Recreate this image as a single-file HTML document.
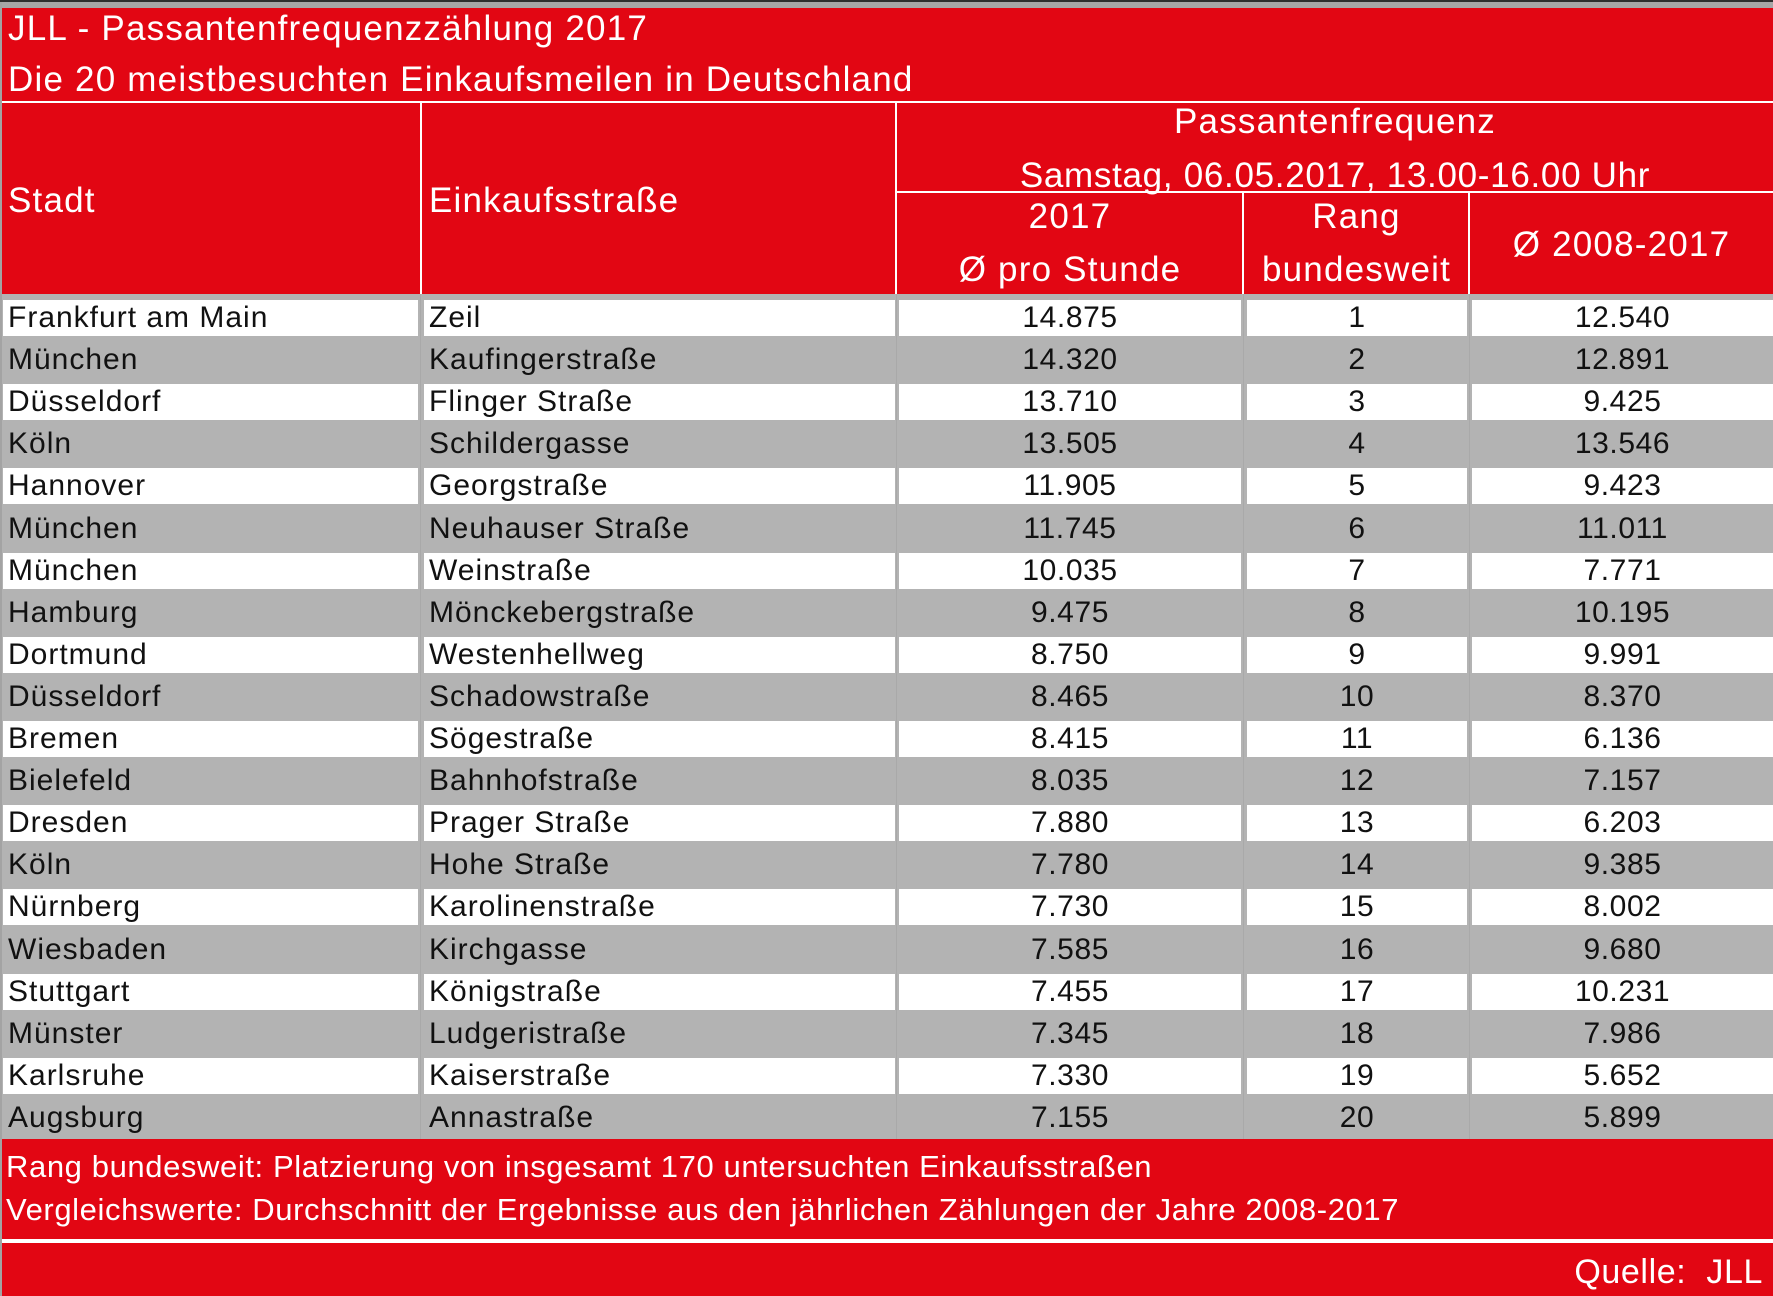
<!DOCTYPE html>
<html><head><meta charset="utf-8">
<style>
*{margin:0;padding:0;box-sizing:border-box}
html,body{width:1773px;height:1296px;overflow:hidden;background:#e20613}
body{position:relative;font-family:"Liberation Sans",Arial,sans-serif}
.a{position:absolute}
.h{position:absolute;color:#fff;font-size:35px;letter-spacing:1.2px;line-height:40px;height:40px;white-space:nowrap}
.f{position:absolute;color:#fff;font-size:31px;letter-spacing:0.6px;line-height:40px;height:40px;white-space:pre}
.r{position:absolute;left:0;width:1773px;height:42.1px}
.c{position:absolute;top:6px;height:36.1px;line-height:36px;font-size:30px;letter-spacing:1px;color:#111;white-space:nowrap}
.w .c{background:#fff}
.c1{left:3px;width:415px;padding-left:5px}
.c2{left:424px;width:471px;padding-left:5px}
.c3{left:899px;width:342px;text-align:center;letter-spacing:0.6px}
.c4{left:1247px;width:220px;text-align:center;letter-spacing:0.6px}
.c5{left:1472px;width:301px;text-align:center;letter-spacing:0.6px}
.vl{position:absolute;top:294px;height:845px;width:1px;background:#a9a9a9}
.wl{position:absolute;background:#fff}
</style></head><body>
<!-- frame -->
<div class="a" style="left:0;top:0;width:1773px;height:2px;background:#2e2e2e"></div>
<div class="a" style="left:0;top:2px;width:1773px;height:6px;background:#a6a6a6"></div>
<div class="a" style="left:0;top:2px;width:2px;height:1294px;background:#a3a3a3"></div>

<!-- title -->
<div class="h" style="left:8px;top:9px">JLL - Passantenfrequenzzählung 2017</div>
<div class="h" style="left:8px;top:60px">Die 20 meistbesuchten Einkaufsmeilen in Deutschland</div>

<!-- header -->
<div class="h" style="left:8px;top:181px">Stadt</div>
<div class="h" style="left:429px;top:181px">Einkaufsstraße</div>
<div class="h" style="left:897px;width:876px;text-align:center;top:102px">Passantenfrequenz</div>
<div class="h" style="left:897px;width:876px;text-align:center;top:156px;letter-spacing:0.7px">Samstag, 06.05.2017, 13.00-16.00 Uhr</div>
<div class="h" style="left:897px;width:346px;text-align:center;top:197px">2017</div>
<div class="h" style="left:897px;width:346px;text-align:center;top:250px">Ø pro Stunde</div>
<div class="h" style="left:1244px;width:225px;text-align:center;top:197px">Rang</div>
<div class="h" style="left:1244px;width:225px;text-align:center;top:250px">bundesweit</div>
<div class="h" style="left:1470px;width:303px;text-align:center;top:225px">Ø 2008-2017</div>

<!-- header white lines -->
<div class="wl" style="left:2px;top:101px;width:1771px;height:2px"></div>
<div class="wl" style="left:420px;top:103px;width:2px;height:191px"></div>
<div class="wl" style="left:895px;top:103px;width:2px;height:191px"></div>
<div class="wl" style="left:897px;top:191px;width:876px;height:2px"></div>
<div class="wl" style="left:1242px;top:193px;width:2px;height:101px"></div>
<div class="wl" style="left:1468px;top:193px;width:2px;height:101px"></div>

<!-- body gray -->
<div class="a" style="left:2px;top:294px;width:1771px;height:845px;background:#b3b3b3"></div>
<div class="vl" style="left:420px"></div>
<div class="vl" style="left:896px"></div>
<div class="vl" style="left:1243px"></div>
<div class="vl" style="left:1469px"></div>

<div class="r w" style="top:294px"><div class="c c1">Frankfurt am Main</div><div class="c c2">Zeil</div><div class="c c3">14.875</div><div class="c c4">1</div><div class="c c5">12.540</div></div>
<div class="r" style="top:336.1px"><div class="c c1">München</div><div class="c c2">Kaufingerstraße</div><div class="c c3">14.320</div><div class="c c4">2</div><div class="c c5">12.891</div></div>
<div class="r w" style="top:378.2px"><div class="c c1">Düsseldorf</div><div class="c c2">Flinger Straße</div><div class="c c3">13.710</div><div class="c c4">3</div><div class="c c5">9.425</div></div>
<div class="r" style="top:420.3px"><div class="c c1">Köln</div><div class="c c2">Schildergasse</div><div class="c c3">13.505</div><div class="c c4">4</div><div class="c c5">13.546</div></div>
<div class="r w" style="top:462.4px"><div class="c c1">Hannover</div><div class="c c2">Georgstraße</div><div class="c c3">11.905</div><div class="c c4">5</div><div class="c c5">9.423</div></div>
<div class="r" style="top:504.5px"><div class="c c1">München</div><div class="c c2">Neuhauser Straße</div><div class="c c3">11.745</div><div class="c c4">6</div><div class="c c5">11.011</div></div>
<div class="r w" style="top:546.6px"><div class="c c1">München</div><div class="c c2">Weinstraße</div><div class="c c3">10.035</div><div class="c c4">7</div><div class="c c5">7.771</div></div>
<div class="r" style="top:588.7px"><div class="c c1">Hamburg</div><div class="c c2">Mönckebergstraße</div><div class="c c3">9.475</div><div class="c c4">8</div><div class="c c5">10.195</div></div>
<div class="r w" style="top:630.8px"><div class="c c1">Dortmund</div><div class="c c2">Westenhellweg</div><div class="c c3">8.750</div><div class="c c4">9</div><div class="c c5">9.991</div></div>
<div class="r" style="top:672.9px"><div class="c c1">Düsseldorf</div><div class="c c2">Schadowstraße</div><div class="c c3">8.465</div><div class="c c4">10</div><div class="c c5">8.370</div></div>
<div class="r w" style="top:715px"><div class="c c1">Bremen</div><div class="c c2">Sögestraße</div><div class="c c3">8.415</div><div class="c c4">11</div><div class="c c5">6.136</div></div>
<div class="r" style="top:757.1px"><div class="c c1">Bielefeld</div><div class="c c2">Bahnhofstraße</div><div class="c c3">8.035</div><div class="c c4">12</div><div class="c c5">7.157</div></div>
<div class="r w" style="top:799.2px"><div class="c c1">Dresden</div><div class="c c2">Prager Straße</div><div class="c c3">7.880</div><div class="c c4">13</div><div class="c c5">6.203</div></div>
<div class="r" style="top:841.3px"><div class="c c1">Köln</div><div class="c c2">Hohe Straße</div><div class="c c3">7.780</div><div class="c c4">14</div><div class="c c5">9.385</div></div>
<div class="r w" style="top:883.4px"><div class="c c1">Nürnberg</div><div class="c c2">Karolinenstraße</div><div class="c c3">7.730</div><div class="c c4">15</div><div class="c c5">8.002</div></div>
<div class="r" style="top:925.5px"><div class="c c1">Wiesbaden</div><div class="c c2">Kirchgasse</div><div class="c c3">7.585</div><div class="c c4">16</div><div class="c c5">9.680</div></div>
<div class="r w" style="top:967.6px"><div class="c c1">Stuttgart</div><div class="c c2">Königstraße</div><div class="c c3">7.455</div><div class="c c4">17</div><div class="c c5">10.231</div></div>
<div class="r" style="top:1009.7px"><div class="c c1">Münster</div><div class="c c2">Ludgeristraße</div><div class="c c3">7.345</div><div class="c c4">18</div><div class="c c5">7.986</div></div>
<div class="r w" style="top:1051.8px"><div class="c c1">Karlsruhe</div><div class="c c2">Kaiserstraße</div><div class="c c3">7.330</div><div class="c c4">19</div><div class="c c5">5.652</div></div>
<div class="r" style="top:1093.9px"><div class="c c1">Augsburg</div><div class="c c2">Annastraße</div><div class="c c3">7.155</div><div class="c c4">20</div><div class="c c5">5.899</div></div>

<!-- footer -->
<div class="f" style="left:6px;top:1147px">Rang bundesweit: Platzierung von insgesamt 170 untersuchten Einkaufsstraßen</div>
<div class="f" style="left:6px;top:1190px">Vergleichswerte: Durchschnitt der Ergebnisse aus den jährlichen Zählungen der Jahre 2008-2017</div>
<div class="wl" style="left:2px;top:1239px;width:1771px;height:4px"></div>
<div class="f" style="right:10px;top:1252px;font-size:34px;text-align:right">Quelle:  JLL</div>
</body></html>
